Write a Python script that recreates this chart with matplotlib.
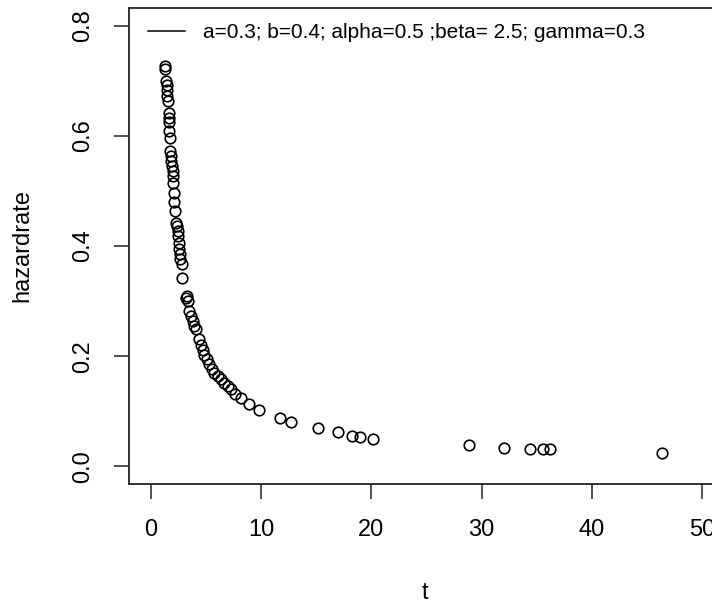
import matplotlib
matplotlib.use("Agg")
import matplotlib.pyplot as plt
from matplotlib.lines import Line2D

plt.rcParams["font.family"] = ["Liberation Sans", "DejaVu Sans"]

# hazard rate evaluated at the sample times
t = [1.27, 1.27, 1.36, 1.42, 1.45, 1.45, 1.51, 1.60, 1.60, 1.60, 1.66, 1.73,
     1.75, 1.82, 1.85, 1.91, 1.96, 1.96, 2.03, 2.05, 2.12, 2.21, 2.27, 2.33,
     2.42, 2.48, 2.57, 2.57, 2.64, 2.66, 2.78, 2.78,
     3.18, 3.24, 3.33, 3.48, 3.64, 3.78, 3.94, 4.09, 4.39, 4.55, 4.69, 4.85,
     5.05, 5.30, 5.55, 5.75, 6.05, 6.36, 6.66, 6.96, 7.27, 7.66, 8.18, 8.85,
     9.78, 11.66, 12.73, 15.15, 16.96, 18.27, 19.0, 20.15,
     28.85, 32.0, 34.4, 35.6, 36.2, 46.35]
hazard = [0.727, 0.722, 0.699, 0.693, 0.684, 0.672, 0.663, 0.642, 0.633, 0.625,
          0.609, 0.596, 0.572, 0.563, 0.554, 0.545, 0.536, 0.527, 0.515, 0.497,
          0.479, 0.463, 0.442, 0.436, 0.427, 0.418, 0.406, 0.394, 0.385, 0.376,
          0.367, 0.342,
          0.306, 0.309, 0.300, 0.282, 0.273, 0.264, 0.255, 0.249, 0.232, 0.221,
          0.212, 0.203, 0.194, 0.185, 0.176, 0.170, 0.164, 0.158, 0.152, 0.146,
          0.140, 0.132, 0.125, 0.113, 0.103, 0.088, 0.080, 0.069, 0.063, 0.056,
          0.053, 0.050,
          0.038, 0.034, 0.031, 0.031, 0.031, 0.025]

xticks = [0, 10, 20, 30, 40, 50]
yticks = [0.0, 0.2, 0.4, 0.6, 0.8]
legend_text = "a=0.3; b=0.4; alpha=0.5 ;beta= 2.5; gamma=0.3"

W, H = 712, 605
fig = plt.figure(figsize=(W / 100, H / 100), dpi=100)
# plot region runs off the right edge of the canvas
ax = fig.add_axes([129 / W, 1 - 484 / H, (724 - 129) / W, (484 - 8) / H])

ax.plot(t, hazard, linestyle="none", marker="o", ms=7.6, mfc="none",
        mec="black", mew=1.2)

ax.set_xlim(-2, 52)
ax.set_ylim(-0.032, 0.832)
ax.set_xticks(xticks)
ax.set_yticks(yticks)
ax.set_yticklabels([f"{v:.1f}" for v in yticks], rotation=90, va="center")
ax.tick_params(direction="out", length=11, width=1.1, color="#222222",
               labelsize=17, pad=14)

for s in ax.spines.values():
    s.set_linewidth(1.3)
    s.set_color("#222222")

fig.text(425 / W, 1 - 593 / H, "t", fontsize=17, ha="center", va="center")
fig.text(22 / W, 1 - 245 / H, "hazardrate", fontsize=17, rotation=90,
         ha="center", va="center")

handle = Line2D([], [], color="black", lw=1.1)
fig.legend([handle], [legend_text], loc="center left",
           bbox_to_anchor=(148 / W, 1 - 33 / H), frameon=False,
           fontsize=15, handlelength=1.78, handletextpad=0.87,
           borderpad=0, borderaxespad=0)

fig.savefig("out.png", dpi=100)
